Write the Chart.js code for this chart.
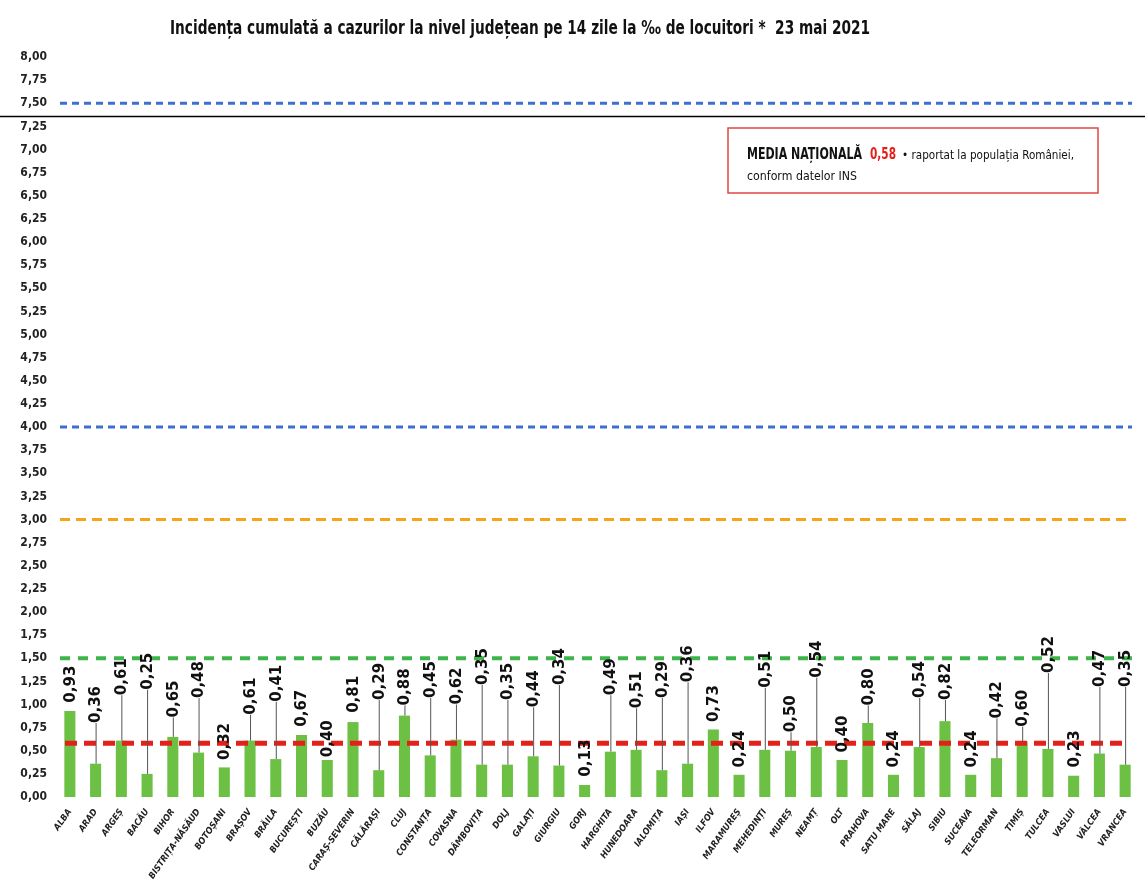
<!DOCTYPE html>
<html lang="ro">
<head>
<meta charset="utf-8">
<title>Incidența cumulată la 14 zile</title>
<script src="https://cdn.jsdelivr.net/npm/chart.js@4.4.1/dist/chart.umd.min.js"></script>
<style>
  html, body { margin: 0; padding: 0; background: #fff; }
  #wrap { width: 1145px; height: 887px; position: relative; }
</style>
</head>
<body>
<div id="wrap"><canvas id="chart"></canvas></div>
<script>
// Incidenta cumulata pe judete - 23 mai 2021
const titlu = 'Incidența cumulată a cazurilor la nivel județean pe 14 zile la ‰ de locuitori *  23 mai 2021';

const judete = ['ALBA', 'ARAD', 'ARGEȘ', 'BACĂU', 'BIHOR', 'BISTRIȚA-NĂSĂUD', 'BOTOȘANI', 'BRAȘOV', 'BRĂILA',
  'BUCUREȘTI', 'BUZĂU', 'CARAȘ-SEVERIN', 'CĂLĂRAȘI', 'CLUJ', 'CONSTANȚA', 'COVASNA', 'DÂMBOVIȚA', 'DOLJ',
  'GALAȚI', 'GIURGIU', 'GORJ', 'HARGHITA', 'HUNEDOARA', 'IALOMIȚA', 'IAȘI', 'ILFOV', 'MARAMUREȘ', 'MEHEDINȚI',
  'MUREȘ', 'NEAMȚ', 'OLT', 'PRAHOVA', 'SATU MARE', 'SĂLAJ', 'SIBIU', 'SUCEAVA', 'TELEORMAN', 'TIMIȘ',
  'TULCEA', 'VASLUI', 'VÂLCEA', 'VRANCEA'];

const incidenta = [0.93, 0.36, 0.61, 0.25, 0.65, 0.48, 0.32, 0.61, 0.41, 0.67, 0.40, 0.81, 0.29, 0.88,
  0.45, 0.62, 0.35, 0.35, 0.44, 0.34, 0.13, 0.49, 0.51, 0.29, 0.36, 0.73, 0.24, 0.51, 0.50, 0.54, 0.40,
  0.80, 0.24, 0.54, 0.82, 0.24, 0.42, 0.60, 0.52, 0.23, 0.47, 0.35];

// nivelul (in ‰) de la care incepe eticheta fiecarei coloane
const etichetaDeLa = [1.02, 0.80, 1.10, 1.16, 0.86, 1.07, 0.40, 0.89, 1.03, 0.76, 0.43, 0.91, 1.05, 0.99,
  1.07, 1.00, 1.21, 1.05, 0.97, 1.21, 0.22, 1.10, 0.96, 1.07, 1.24, 0.81, 0.32, 1.18, 0.70, 1.29, 0.48,
  0.99, 0.32, 1.07, 1.05, 0.32, 0.85, 0.76, 1.34, 0.32, 1.19, 1.19];

const praguri = [7.5, 4.0, 3.0, 1.5];
const mediaNationala = 0.58;
const axaMin = 0, axaMax = 8, axaPas = 0.25;

const fmt = v => Number(v).toFixed(2).replace('.', ',');
const NARROW = '"Liberation Sans Narrow", "DejaVu Sans Condensed", sans-serif';

const stilPraguri = [
  { color: '#3d6fd0', width: 3, dash: [7, 5] },
  { color: '#3d6fd0', width: 3, dash: [7, 5] },
  { color: '#f2a516', width: 3, dash: [10, 6] },
  { color: '#3cb54a', width: 4, dash: [10, 8] }
];

// scrie un text comprimat orizontal ca sa incapa in latimea data
function textIngust(ctx, txt, x, y, latime) {
  const w = ctx.measureText(txt).width;
  const k = Math.min(1, latime / w);
  ctx.save();
  ctx.translate(x, y);
  ctx.scale(k, 1);
  ctx.fillText(txt, 0, 0);
  ctx.restore();
  return w * k;
}

const decor = {
  id: 'decor',
  afterDatasetsDraw(chart) {
    const { ctx, chartArea: a, scales: { y } } = chart;
    ctx.save();
    // linia neagra de separatie
    ctx.strokeStyle = '#000';
    ctx.lineWidth = 1.5;
    ctx.beginPath();
    const ys = Math.round(y.getPixelForValue(7.36)) + 0.5;
    ctx.moveTo(0, ys); ctx.lineTo(chart.width, ys); ctx.stroke();

    praguri.forEach((p, i) => {
      const s = stilPraguri[i];
      const py = y.getPixelForValue(p);
      ctx.strokeStyle = s.color; ctx.lineWidth = s.width; ctx.setLineDash(s.dash);
      ctx.beginPath(); ctx.moveTo(a.left + 3, py); ctx.lineTo(a.right - 6, py); ctx.stroke();
    });
    const my = y.getPixelForValue(mediaNationala);
    ctx.strokeStyle = '#e3211b'; ctx.lineWidth = 5; ctx.setLineDash([12, 7]);
    ctx.beginPath(); ctx.moveTo(a.left + 8, my); ctx.lineTo(a.right - 15, my); ctx.stroke();
    ctx.setLineDash([]);

    // etichete cu linii de legatura
    const meta = chart.getDatasetMeta(0);
    meta.data.forEach((bar, i) => {
      const yTop = bar.y;
      const yLab = y.getPixelForValue(etichetaDeLa[i]);
      if (yTop - yLab > 10) {
        ctx.strokeStyle = '#555'; ctx.lineWidth = 1;
        ctx.beginPath(); ctx.moveTo(bar.x + 0.5, yTop); ctx.lineTo(bar.x + 0.5, yLab); ctx.stroke();
      }
      ctx.save();
      ctx.translate(bar.x + 1, yLab);
      ctx.rotate(-Math.PI / 2);
      ctx.font = 'bold 15px "DejaVu Sans", sans-serif';
      ctx.fillStyle = '#111';
      ctx.textAlign = 'left';
      ctx.textBaseline = 'middle';
      ctx.fillText(fmt(incidenta[i]), 0, 0);
      ctx.restore();
    });

    // caseta media nationala
    const bx = a.right - 410, by = 128, bw = 370, bh = 65;
    ctx.fillStyle = '#fff';
    ctx.fillRect(bx, by, bw, bh);
    ctx.strokeStyle = '#e04545'; ctx.lineWidth = 1.5;
    ctx.strokeRect(bx, by, bw, bh);
    ctx.textBaseline = 'alphabetic'; ctx.textAlign = 'left';
    let tx = bx + 19;
    ctx.font = 'bold 15px ' + NARROW; ctx.fillStyle = '#111';
    tx += textIngust(ctx, 'MEDIA NAȚIONALĂ', tx, by + 31, 115) + 8;
    ctx.fillStyle = '#e3211b';
    tx += textIngust(ctx, fmt(mediaNationala), tx, by + 31, 26) + 6;
    ctx.font = '13px ' + NARROW; ctx.fillStyle = '#111';
    textIngust(ctx, '• raportat la populația României,', tx, by + 31, 172);
    textIngust(ctx, 'conform datelor INS', bx + 19, by + 52, 110);

    // titlu
    ctx.font = 'bold 19px ' + NARROW;
    ctx.fillStyle = '#111';
    textIngust(ctx, titlu, 170, 34, 700);
    ctx.restore();
  }
};

new Chart(document.getElementById('chart'), {
  type: 'bar',
  data: {
    labels: judete,
    datasets: [{
      data: incidenta,
      backgroundColor: '#6cc144',
      barPercentage: 0.86,
      categoryPercentage: 0.5
    }]
  },
  options: {
    responsive: true,
    maintainAspectRatio: false,
    animation: false,
    events: [],
    layout: { padding: { top: 57, right: 7, left: 0, bottom: 0 } },
    plugins: { legend: { display: false }, title: { display: false }, tooltip: { enabled: false } },
    scales: {
      x: {
        grid: { display: false, drawTicks: false },
        border: { display: false },
        ticks: {
          autoSkip: false, maxRotation: 55, minRotation: 55, padding: 10,
          color: '#222', font: { family: NARROW, size: 9, style: 'italic', weight: 'bold' }
        },
        afterFit(scale) { scale.height = 90; }
      },
      y: {
        min: axaMin, max: axaMax,
        grid: { display: false, drawTicks: false },
        border: { display: false },
        ticks: {
          stepSize: axaPas, autoSkip: false, padding: 10,
          color: '#222', font: { family: NARROW, size: 12, weight: 'bold' },
          callback: v => fmt(v)
        },
        afterFit(scale) { scale.width = 57; }
      }
    }
  },
  plugins: [decor]
});
</script>
</body>
</html>
